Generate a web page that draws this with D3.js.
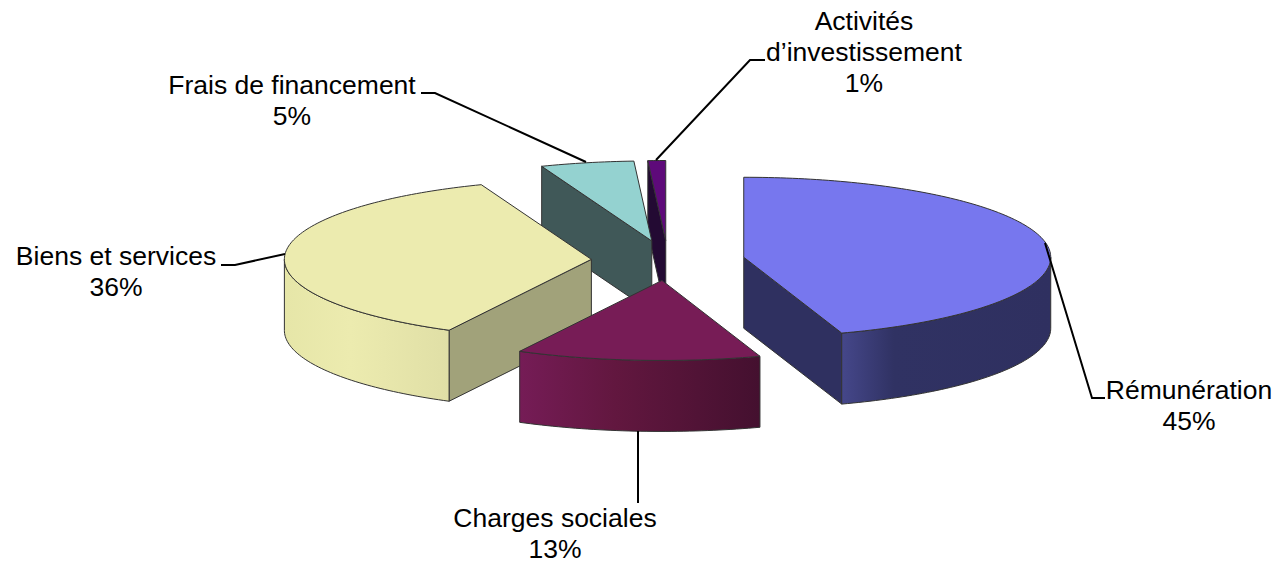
<!DOCTYPE html>
<html>
<head>
<meta charset="utf-8">
<script src="https://cdn.jsdelivr.net/npm/d3@7"></script>
<style>
  html, body { margin: 0; background: #fff; }
  text { font-family: "Liberation Sans", Arial, sans-serif; font-size: 26.5px; fill: #000; }
</style>
</head>
<body>
<div id="chart"></div>
<script>
// values estimated from the slice corners, clockwise from 12 o'clock
const categories = ['Rémunération', 'Charges sociales', 'Biens et services', 'Frais de financement', 'Activités d’investissement'];
const shares = [44.83, 12.84, 36.49, 4.91, 0.93];

const topColors = ['#7777ee', '#771c56', '#ecebaf', '#94d2d0', '#5e0a7a'];
const faceColors = ['#2f3060', '#500f38', '#a1a27a', '#405858', '#230a33'];
const rimStops = [
    [['0', '#45478a'], ['0.25', '#303263'], ['1', '#2f3060']],
    [['0', '#751c56'], ['0.4', '#62173f'], ['1', '#44102f']],
    [['0', '#e6e6a8'], ['0.4', '#ecebaf'], ['1', '#e0dfa6']],
    [['0', '#405858'], ['1', '#405858']],
    [['0', '#230a33'], ['1', '#230a33']]
];
// painter order, back to front
const drawOrder = [4, 3, 2, 0, 1];

const labelLines = [
    ['Rémunération', '45%'],
    ['Charges sociales', '13%'],
    ['Biens et services', '36%'],
    ['Frais de financement', '5%'],
    ['Activités', 'd’investissement', '1%']
];
const labelAnchors = [[1189, 399], [555, 527], [116, 265], [292, 94], [864, 30]];
const leaders = [
    [[1045, 243], [1092, 398], [1105, 398]],
    [[638, 431], [638, 503]],
    [[285, 254], [235, 265], [221, 265]],
    [[586, 162], [435, 93], [421, 93]],
    [[656, 160], [750, 60], [765, 60]]
];

const width = 1281, height = 564;
const cx = 668, cy = 260.5, rx = 307, ry = 80, depth = 71, explode = 0.25;

const scaleX = d3.scaleLinear([-1, 1], [cx - rx, cx + rx]);
const scaleY = d3.scaleLinear([-1, 1], [cy - ry, cy + ry]);

const svg = d3.select('#chart').append('svg')
    .attr('width', width)
    .attr('height', height)
    .style('display', 'block');
const defs = svg.append('defs');

const arcs = d3.pie().sort(null).value(d => d)(shares);

const line = d3.line().x(d => d[0]).y(d => d[1]);

// unit-circle point of a slice, pushed out along its mid angle
function project(arc, angle, r, drop) {
    const mid = (arc.startAngle + arc.endAngle) / 2;
    const ux = explode * Math.sin(mid) + r * Math.sin(angle);
    const uy = -explode * Math.cos(mid) - r * Math.cos(angle);
    return [scaleX(ux), scaleY(uy) + drop];
}

function sweep(a0, a1) {
    const n = Math.max(2, Math.ceil((a1 - a0) / 0.02));
    return d3.range(n + 1).map(i => a0 + (a1 - a0) * i / n);
}

const slices = svg.append('g')
    .attr('stroke', '#333')
    .attr('stroke-width', 1)
    .attr('stroke-linejoin', 'round');

drawOrder.forEach(i => {
    const arc = arcs[i];
    const g = slices.append('g').attr('class', 'slice');

    // radial cut faces, only those turned towards the viewer
    const faces = [];
    if (Math.sin(arc.startAngle) < -1e-6) faces.push(arc.startAngle);
    if (Math.sin(arc.endAngle) > 1e-6) faces.push(arc.endAngle);
    faces.forEach(a => {
        const p0 = project(arc, a, 0, 0), p1 = project(arc, a, 1, 0);
        const p2 = project(arc, a, 1, depth), p3 = project(arc, a, 0, depth);
        g.append('path')
            .attr('d', line([p0, p1, p2, p3]) + 'Z')
            .attr('fill', faceColors[i]);
    });

    // outer rim, only the front half of the ellipse shows
    const a0 = Math.max(arc.startAngle, Math.PI / 2);
    const a1 = Math.min(arc.endAngle, Math.PI * 1.5);
    if (a1 > a0) {
        const angles = sweep(a0, a1);
        const upper = angles.map(a => project(arc, a, 1, 0));
        const lower = angles.map(a => project(arc, a, 1, depth)).reverse();
        const xs = d3.extent(upper, d => d[0]);
        const grad = defs.append('linearGradient')
            .attr('id', 'rim' + i)
            .attr('gradientUnits', 'userSpaceOnUse')
            .attr('x1', xs[0]).attr('x2', xs[1])
            .attr('y1', 0).attr('y2', 0);
        grad.selectAll('stop').data(rimStops[i]).join('stop')
            .attr('offset', d => d[0])
            .attr('stop-color', d => d[1]);
        g.append('path')
            .attr('d', line(upper.concat(lower)) + 'Z')
            .attr('fill', `url(#rim${i})`);
    }

    // top surface
    const edge = sweep(arc.startAngle, arc.endAngle).map(a => project(arc, a, 1, 0));
    g.append('path')
        .attr('d', line([project(arc, 0, 0, 0)].concat(edge)) + 'Z')
        .attr('fill', topColors[i]);
});

svg.append('g').selectAll('path').data(leaders).join('path')
    .attr('d', d => line(d))
    .attr('fill', 'none')
    .attr('stroke', '#000')
    .attr('stroke-width', 2);

const labels = svg.append('g').selectAll('text').data(labelLines).join('text')
    .attr('text-anchor', 'middle')
    .attr('transform', (d, i) => `translate(${labelAnchors[i][0]},${labelAnchors[i][1]})`);
labels.selectAll('tspan').data(d => d).join('tspan')
    .attr('x', 0)
    .attr('y', (d, i) => i * 31)
    .text(d => d);
</script>
</body>
</html>
